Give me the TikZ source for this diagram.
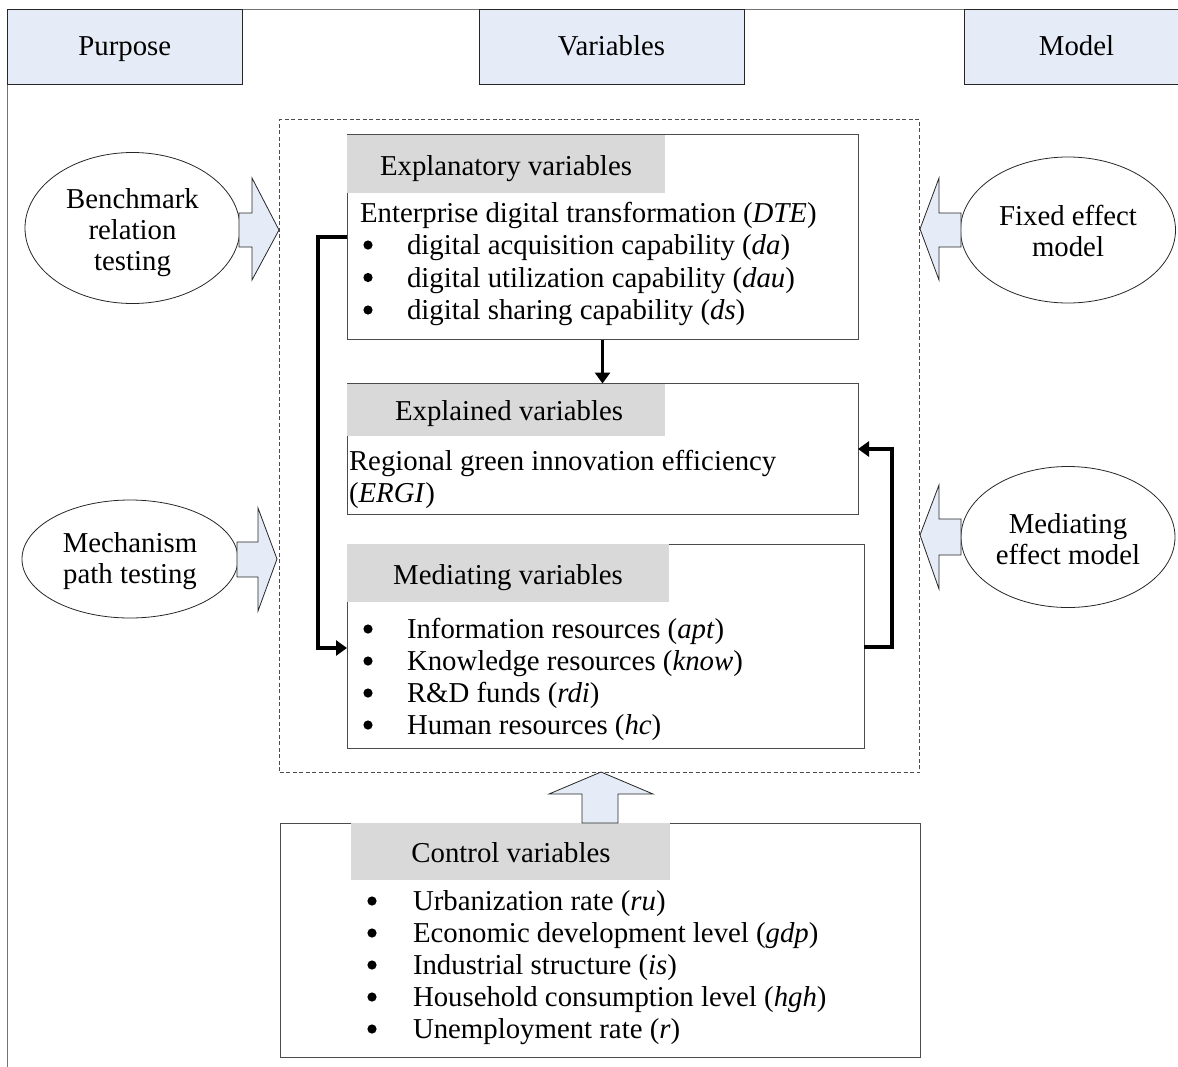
\documentclass[tikz,border=0pt]{standalone}
\usepackage{fontspec}
\setmainfont{Liberation Serif}
\usetikzlibrary{arrows.meta,shapes.geometric}
\definecolor{headblue}{RGB}{230,236,247}
\definecolor{bandgray}{RGB}{217,217,217}
\begin{document}
\begin{tikzpicture}[x=1pt,y=-1pt,
  every node/.style={font=\fontsize{28.8}{31}\selectfont, inner sep=0pt, outer sep=0pt},
  frameline/.style={draw=black!55, line width=1.1pt},
  headbox/.style={draw=black!85, fill=headblue, line width=0.9pt, anchor=north west,
                  text height=20pt, text depth=3pt},
  panel/.style={draw=black!70, line width=1pt, anchor=north west},
  band/.style={fill=bandgray, anchor=north west},
  txt/.style={anchor=base west},
  ttl/.style={anchor=base},
  oval/.style={ellipse, draw=black!85, line width=0.8pt},
  ovaltext/.style={align=center},
  fatarrow/.style={draw=black!85, fill=headblue, line width=0.8pt, line join=miter},
  flow/.style={line width=3.4pt, line join=miter, -{Triangle[length=11pt,width=15pt]}},
  listdot/.style={fill=black},
]
\useasboundingbox (0,0) rectangle (1178,1066);

% outer frame and column headers
\draw[frameline] (7.3,1075) -- (7.3,9.5) -- (1190,9.5);
\node[headbox, minimum width=235pt, minimum height=74.5pt] (purpose) at (7.3,9.5) {Purpose};
\node[headbox, minimum width=265pt, minimum height=74.5pt] (variables) at (479,9.5) {Variables};
\node[headbox, minimum width=225pt, minimum height=74.5pt] (model) at (964,9.5) {Model};

% dashed frame around the variable blocks
\node[draw=black!70, dashed, dash pattern=on 4pt off 2.5pt, line width=0.8pt, anchor=north west,
      minimum width=640pt, minimum height=653pt] (varframe) at (279.5,119.5) {};

% explanatory variables
\node[panel, minimum width=511pt, minimum height=205pt] (expl) at (347,134.5) {};
\node[band, minimum width=318pt, minimum height=58pt] (explband) at (347,134.5) {};
\node[ttl] (expltitle) at (506,175) {Explanatory variables};
\node[txt] (dte) at (360,222) {Enterprise digital transformation (\textit{DTE})};
\node[txt] (da) at (407,254.5) {digital acquisition capability (\textit{da})};
\node[txt] (dau) at (407,287) {digital utilization capability (\textit{dau})};
\node[txt] (ds) at (407,319.5) {digital sharing capability (\textit{ds})};
\foreach \y in {245,277.5,310} \fill[listdot] (368,\y) circle (4.6);

% explained variables
\node[panel, minimum width=511pt, minimum height=131pt] (expd) at (347,383.5) {};
\node[band, minimum width=318pt, minimum height=52pt] (expdband) at (347,383.5) {};
\node[ttl] (expdtitle) at (509,420.5) {Explained variables};
\node[txt] (ergi1) at (349,470) {Regional green innovation efficiency};
\node[txt] (ergi2) at (349,502) {(\textit{ERGI})};

% mediating variables
\node[panel, minimum width=517pt, minimum height=204pt] (med) at (347,544) {};
\node[band, minimum width=322pt, minimum height=58pt] (medband) at (347,544) {};
\node[ttl] (medtitle) at (508,584.5) {Mediating variables};
\node[txt] (apt) at (407,638.5) {Information resources (\textit{apt})};
\node[txt] (know) at (407,670.5) {Knowledge resources (\textit{know})};
\node[txt] (rdi) at (407,702.5) {R\&D funds (\textit{rdi})};
\node[txt] (hc) at (407,734.5) {Human resources (\textit{hc})};
\foreach \y in {629,661,693,725} \fill[listdot] (368,\y) circle (4.6);

% control variables
\node[panel, minimum width=640pt, minimum height=234pt] (ctrl) at (280,823) {};
\node[band, minimum width=319pt, minimum height=57pt] (ctrlband) at (351,823) {};
\node[ttl] (ctrltitle) at (511,862.5) {Control variables};
\node[txt] (ru) at (413,910) {Urbanization rate (\textit{ru})};
\node[txt] (gdp) at (413,942) {Economic development level (\textit{gdp})};
\node[txt] (is) at (413,974) {Industrial structure (\textit{is})};
\node[txt] (hgh) at (413,1006) {Household consumption level (\textit{hgh})};
\node[txt] (r) at (413,1038) {Unemployment rate (\textit{r})};
\foreach \y in {901,933,965,997,1029} \fill[listdot] (372,\y) circle (4.6);

% connectors between the blocks
\coordinate (lefttop) at (318,237);
\coordinate (leftbot) at (318,648);
\coordinate (rightbot) at (892,647);
\coordinate (righttop) at (892,449);
\draw[flow] (expl.south) -- (expd.north);
\draw[flow] (expl.west |- lefttop) -- (lefttop) -- (leftbot) -- (med.west |- leftbot);
\draw[flow] (med.east |- rightbot) -- (rightbot) -- (righttop) -- (expd.east |- righttop);

% purposes and models
\node[oval, minimum width=215pt, minimum height=151pt] (bench) at (132.5,228) {};
\node[ovaltext] (benchtext) at (132.5,233) {Benchmark\\relation\\testing};
\node[oval, minimum width=216pt, minimum height=118pt] (mech) at (130,559) {};
\node[ovaltext] (mechtext) at (130,561) {Mechanism\\path testing};
\node[oval, minimum width=215pt, minimum height=146pt] (fixed) at (1068,230) {};
\node[ovaltext] (fixedtext) at (1068,231) {Fixed effect\\model};
\node[oval, minimum width=214pt, minimum height=141pt] (medeff) at (1068,537) {};
\node[ovaltext] (medefftext) at (1068,539) {Mediating\\effect model};

% block arrows
\draw[fatarrow] (239,213) -- (252,213) -- (252,178) -- (279,230) -- (252,280) -- (252,247) -- (239,247) -- cycle;
\draw[fatarrow] (237,542) -- (258,542) -- (258,508) -- (277,559) -- (258,611) -- (258,577) -- (237,577) -- cycle;
\draw[fatarrow] (961,213) -- (939,213) -- (939,178) -- (920,229) -- (939,280) -- (939,247) -- (961,247) -- cycle;
\draw[fatarrow] (961,519) -- (939,519) -- (939,485) -- (920,535) -- (939,589) -- (939,555) -- (961,555) -- cycle;
\draw[fatarrow] (582,823) -- (582,794) -- (549,794) -- (601,772) -- (653,794) -- (618,794) -- (618,823) -- cycle;
\end{tikzpicture}
\end{document}
